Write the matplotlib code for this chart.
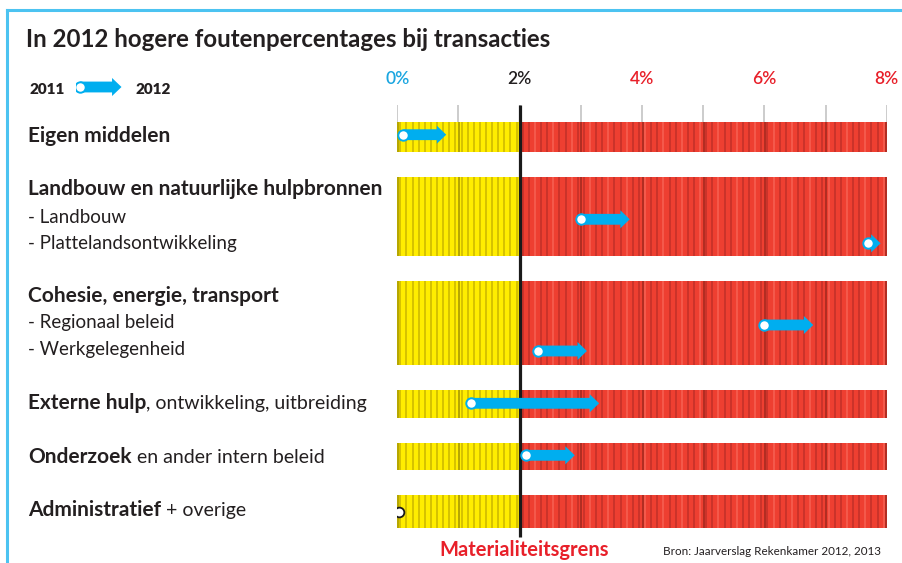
import matplotlib
matplotlib.use("Agg")
import matplotlib.pyplot as plt
import numpy as np
from matplotlib.collections import LineCollection
from matplotlib.text import Annotation

# ---------------- data ----------------
items = ["Eigen middelen", "Landbouw", "Plattelandsontwikkeling", "Regionaal beleid",
         "Werkgelegenheid", "Externe hulp", "Onderzoek", "Administratief"]
rate_2011 = [0.1, 3.0, 7.7, 6.0, 2.3, 1.2, 2.1, 0.0]
rate_2012 = [0.8, 3.8, 7.9, 6.8, 3.1, 3.3, 2.9, 0.0]

group_bold = ["Eigen middelen", "Landbouw en natuurlijke hulpbronnen", "Cohesie, energie, transport",
              "Externe hulp", "Onderzoek", "Administratief"]
group_rest = ["", "", "", ", ontwikkeling, uitbreiding", " en ander intern beleid", " + overige"]
sub_labels = ["- Landbouw", "- Plattelandsontwikkeling", "- Regionaal beleid", "- Werkgelegenheid"]

tick_values = [0, 2, 4, 6, 8]
tick_labels = ["0%", "2%", "4%", "6%", "8%"]
materiality = 2.0
x_max = 8.0

title = "In 2012 hogere foutenpercentages bij transacties"
legend_from, legend_to = "2011", "2012"
threshold_label = "Materialiteitsgrens"
source = "Bron: Jaarverslag Rekenkamer 2012, 2013"

# ---------------- layout (pixels) ----------------
W, H = 902, 563
DPI = 100
group_top = [121.7, 176.7, 281.0, 390.0, 442.7, 495.0]
group_bot = [151.7, 256.0, 365.0, 417.7, 470.0, 527.7]
item_y = [134.7, 219.3, 243.3, 325.0, 351.0, 403.3, 455.3, 512.0]
group_baseline = [142, 195, 301.7, 409.3, 462.7, 516]
sub_baseline = [222.7, 249.3, 328.3, 355]

BLUE = "#00AEEF"
YELLOW = "#FFED00"
YELLOW_D = "#D2BE00"
YELLOW_DD = "#A99A00"
RED = "#EE3F31"
RED_D = "#C8322A"
RED_L = "#F55C4E"
RED_DD = "#A62A20"
TXT = "#231F20"
TICK_RED = "#E8202A"

plt.rcParams['font.family'] = ['Lato', 'DejaVu Sans']

fig = plt.figure(figsize=(W / DPI, H / DPI), dpi=DPI)
fig.patch.set_facecolor("white")

def fx(px):
    return px / W

def fy(py):
    return 1 - py / H

# frame (top and left light-blue lines)
fig.add_artist(plt.Line2D([fx(7), 1], [fy(10), fy(10)], color="#4CC3F1", lw=2.2))
fig.add_artist(plt.Line2D([fx(7), fx(7)], [fy(10), 0], color="#4CC3F1", lw=2.2))

# chart axes: x in %, y in pixel rows
x0_px, x8_px = 397.3, 886.7
y_top_px, y_bot_px = 60, 545
ax = fig.add_axes([fx(x0_px), fy(y_bot_px), fx(x8_px - x0_px), (y_bot_px - y_top_px) / H])
ax.set_xlim(0, x_max)
ax.set_ylim(y_bot_px, y_top_px)
ax.axis("off")

# bars with vertical stripe texture
for top, bot in zip(group_top, group_bot):
    h = bot - top
    c = (top + bot) / 2
    ax.barh(c, materiality, left=0, height=h, color=YELLOW, lw=0, zorder=1)
    ax.barh(c, x_max - materiality, left=materiality, height=h, color=RED, lw=0, zorder=1)
    fine = np.arange(0.05, x_max, 0.1)
    segs_y, segs_r, segs_rl = [], [], []
    for i, xv in enumerate(fine):
        if xv < materiality:
            segs_y.append([(xv, top), (xv, bot)])
        else:
            if i % 3 == 1:
                segs_rl.append([(xv, top), (xv, bot)])
            else:
                segs_r.append([(xv, top), (xv, bot)])
    ax.add_collection(LineCollection(segs_y, colors=YELLOW_D, linewidths=1.3, zorder=2))
    ax.add_collection(LineCollection(segs_r, colors=RED_D, linewidths=1.3, zorder=2))
    ax.add_collection(LineCollection(segs_rl, colors=RED_L, linewidths=1.3, zorder=2))
    for k in range(0, int(x_max) + 1):
        col = YELLOW_DD if k < materiality else RED_DD
        xv = k - 0.01 if k == x_max else k + 0.01
        ax.vlines(xv, top, bot, colors=col, lw=1.2, zorder=2)

# gray tick marks above the first bar
ax.vlines(np.arange(0, x_max + 0.5, 1.0), 105, group_top[0], colors="#C8C8C8", lw=1.3, zorder=1)

# materiality line
ax.vlines(materiality, 105, 537, colors="#1A1A1A", lw=2.3, zorder=4)

# tick labels
for v, lab in zip(tick_values, tick_labels):
    if v == 0:
        col = "#1BA6E0"
    elif v == materiality:
        col = TXT
    else:
        col = TICK_RED
    ax.text(v, 84, lab, ha="center", va="baseline", fontsize=12.5, fontweight="semibold", color=col)

# arrows
arrow_props = dict(arrowstyle="simple,head_length=0.68,head_width=1.3,tail_width=0.78",
                   color=BLUE, lw=0, shrinkA=0, shrinkB=0, mutation_scale=10)
for s, e, y in zip(rate_2011, rate_2012, item_y):
    if e > s:
        ax.annotate("", xy=(e, y), xytext=(s, y), arrowprops=arrow_props, zorder=5)
        ax.plot(s, y, "o", ms=7.5, mfc="white", mec=BLUE, mew=1.4, zorder=6)
    else:
        ax.plot(s, y, "<", ms=4.5, color="#1A1A1A", zorder=5, markeredgewidth=0)
        ax.plot(s + 0.03, y, "o", ms=7.0, mfc="white", mec="#1A1A1A", mew=1.3, zorder=6)

ax.text(materiality + 0.07, 556, threshold_label, ha="center", va="baseline",
        fontsize=14.5, fontweight="bold", color=TICK_RED)

# title / legend
fig.text(fx(26), fy(47), title, fontsize=17.3, fontweight="bold", color=TXT, va="baseline")
fig.text(fx(29), fy(94), legend_from, fontsize=11, fontweight="heavy", color=TXT, va="baseline")
fig.text(fx(136), fy(94), legend_to, fontsize=11, fontweight="heavy", color=TXT, va="baseline")
lax = fig.add_axes([fx(76), fy(97), fx(50), 20 / H])
lax.set_xlim(0, 1)
lax.set_ylim(0, 1)
lax.axis("off")
lax.annotate("", xy=(0.91, 0.5), xytext=(0.08, 0.5), arrowprops=arrow_props)
lax.plot(0.08, 0.5, "o", ms=7.5, mfc="white", mec=BLUE, mew=1.4, zorder=6)

# row labels
BOLD_SIZE = 15
REG_SIZE = 13.5
for lab, rest, yb in zip(group_bold, group_rest, group_baseline):
    t = fig.text(fx(28), fy(yb), lab, fontsize=BOLD_SIZE, fontweight="bold", color=TXT, va="baseline")
    if rest:
        fig.add_artist(Annotation(rest, xy=(1, 0), xycoords=t, xytext=(0, 0.6),
                                  textcoords="offset points", va="bottom",
                                  ha="left", fontsize=REG_SIZE + 0.5, color=TXT))
for lab, yb in zip(sub_labels, sub_baseline):
    fig.text(fx(28), fy(yb), lab, fontsize=REG_SIZE, color=TXT, va="baseline")

fig.text(fx(881), fy(555), source, fontsize=8.4, color=TXT, va="baseline", ha="right")

fig.savefig("out.png", dpi=DPI)
